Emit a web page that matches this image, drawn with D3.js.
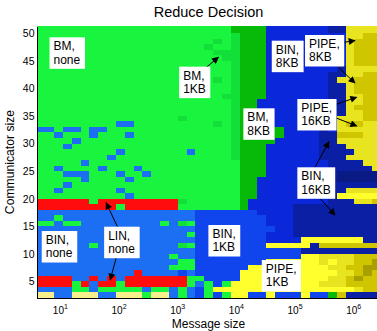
<!DOCTYPE html>
<html>
<head>
<meta charset="utf-8">
<script src="https://cdn.jsdelivr.net/npm/d3@7"></script>
<style>
  body { margin: 0; background: #fff; }
  svg { display: block; font-family: "Liberation Sans", Arial, sans-serif; }
</style>
</head>
<body>
<div id="chart"></div>
<script>
const title = 'Reduce Decision';
const xLabel = 'Message size';
const yLabel = 'Communicator size';

// message size bin edges in bytes (half-octave bins)
const msgEdges = [4, 5.657, 8, 11.31, 16, 22.63, 32, 45.25, 64, 90.51, 128, 181.0,
  256, 362.0, 512, 724.1, 1024, 1448, 2048, 2896, 4096, 5793, 8192, 11585, 16384,
  23170, 32768, 46341, 65536, 92682, 131072, 185364, 262144, 370728, 524288,
  741455, 1048576, 1482910, 2097152, 2965821];

// communicator size of each grid row, top row first
const commSizes = [51, 50, 49, 48, 47, 46, 45, 44, 43, 42, 41, 40, 39, 38, 37, 36,
  35, 34, 33, 32, 31, 30, 29, 28, 27, 26, 25, 24, 23, 22, 21, 20, 19, 18, 17, 16,
  15, 14, 13, 12, 11, 10, 9, 8, 7, 6, 5, 4, 3, 2];

const xTicks = [10, 100, 1000, 10000, 100000, 1000000];
const yTicks = [5, 10, 15, 20, 25, 30, 35, 40, 45, 50];

// chosen algorithm per cell, one letter per message size bin
const decisionGrid = [
  'GGGGGGGGGG' + 'GGGGGGGGGG' + 'GGDDDDnnnn' + 'nnnNNyyyy', // 51
  'GGGGGGGGGG' + 'GGGGGGGGGG' + 'GGDDDDnnnn' + 'nnnNNyyyy', // 50
  'GGGGGGGGGG' + 'GGGGGGGGGG' + 'GGgDDDnnnn' + 'nnnnnyyoo',
  'GGGGGGGGGG' + 'GGGGGGGGGG' + 'gGgDDDnnnn' + 'nnnnnyooo',
  'GGGGGGGGGG' + 'GGGGGGGGGg' + 'GGgDDDnnnn' + 'nnnnnyooo',
  'GGGGGGGGGG' + 'GGGGGGGGGG' + 'gggDDDnnnn' + 'nnnnnyooo',
  'GGGGGGGGGG' + 'GGGGGGGGGG' + 'GggDDDnnnn' + 'nnnnnyooo', // 45
  'GGGGGGGGGG' + 'GGGGGGGGGG' + 'GGgDDDnnnn' + 'nnnnnyooo',
  'GGGGGGGGGG' + 'GGGGGGGGGG' + 'GGgDDDnnnn' + 'nnnnNyyyy',
  'GGGGGGGGGG' + 'GGGGGGGGGG' + 'GGgDDDnnnn' + 'nnnNNyyoo',
  'GGGGGGGGGG' + 'GGGGGGGGGG' + 'gGgDDDnnnn' + 'nnnNyyooo',
  'GGGGGGGGGG' + 'GGGGGGGGGG' + 'GGgDDDnnnn' + 'nnnNNyooo', // 40
  'GGGGGGGGGG' + 'GGGGGGGGGG' + 'GGgDDDnnnn' + 'nnnNNyooo',
  'GGGGGGGGGG' + 'GGGGGGGGGG' + 'GggDDDnnnn' + 'nnnNNyyoo',
  'GGGGGGGGGG' + 'GGGGGGGGGG' + 'GGgDDnnnnn' + 'nnnNNyyoo',
  'GGGGGGGGGG' + 'GGGGGGGGGG' + 'GGgDDnnnnn' + 'nnnNNyooo',
  'GGGGGGGGGG' + 'GGGGGGGGGG' + 'GGgDDDnnnn' + 'nnnNNyyoo', // 35
  'GGGGGGGGGG' + 'GGGGGGgGGG' + 'GGgDDDnnnn' + 'nnnnyyyoo',
  'GGGGGGGGGB' + 'BGGGGGGGGG' + 'gGgDDDnnnn' + 'nnnnyooyy',
  'BBGBBGBBGG' + 'GGGGGGGGGG' + 'GGgDDDDDnn' + 'nnNnyyyyy',
  'GGBGGGBGGG' + 'BGGGGGGGGG' + 'GGgDDDDDnn' + 'nnNNoooyy',
  'GGGGBGGGGG' + 'GGGGGGGGGG' + 'GGgDDDDnnn' + 'nnNNyyyyy', // 30
  'GGGBGGGGGG' + 'GGGGGGGGGG' + 'GGgDDDnnnn' + 'nnNNNyyyy',
  'GGGGGGGGGB' + 'GGGGGGGBGG' + 'GGgDDDnnnn' + 'nnNNNNyyy',
  'GGGGGGGGBG' + 'GGGGGGGGGG' + 'GGgDDDnnnn' + 'nnNNNyyyy',
  'GGGGGBGGGG' + 'GGGGGGGGGG' + 'GGGDDDnnnn' + 'nnnNNNNyy',
  'GGBGGGGBGG' + 'GBGGGGGGGG' + 'GGGDDDnnnn' + 'nnnNNNNNy', // 25
  'GGGBBBGGGB' + 'GGBGGGGGGG' + 'GGGDDDnnnn' + 'nnnNMMMMM',
  'GGGGGBGGGG' + 'BGGGGGGGGG' + 'GGGDDnnnnn' + 'nnnNMMMMM',
  'GGGBGGGGGG' + 'GGGGGGGGGG' + 'GGGDDnnnnn' + 'nnnNNNNNN',
  'GGBGGGGGGB' + 'GGGGGGGGGG' + 'GGGDDnnnnn' + 'nnnNNyyyy',
  'GGGGGGGGGG' + 'BGGGGGGGGG' + 'GGGDDnnnnn' + 'nnnNYYYYY', // 20
  'RRRRRRGRRR' + 'RRRRRRgGGG' + 'GGGDnnnnnn' + 'nnnNNNyyo',
  'RRRRRRRRRG' + 'RRRRRRGGGG' + 'GGGDnnnnnN' + 'NNNNNNNNN',
  'BBBBBBBBBB' + 'BBBBBBBBbb' + 'bbbbbnnnnN' + 'NNNNNNNNN',
  'BBGBBBBBBB' + 'BBBBBBBBbb' + 'bbbbbbnnnN' + 'NNNNNNNNN',
  'GGBGGBBBBB' + 'BBBBGBgGbb' + 'bbbbbbnnnN' + 'NNNNNNNNN', // 15
  'BBBBBBBBBB' + 'BBBBBBBBbb' + 'bbbbbbbnnN' + 'NNNNNNNNN',
  'BBBBBBBBBB' + 'BBBBBBBGbb' + 'bbbbbbnnnN' + 'NNNNNNNNN',
  'BBBBBBBBBB' + 'BBBBBBBBbb' + 'bbbbbbnnnn' + 'YYYYYYYNN',
  'BBBBBBGBBB' + 'BBBBBBgGbb' + 'bbbbbbYYYY' + 'YNooooooo',
  'BBBBBBBBBB' + 'BBBBBBBBbb' + 'bbbbbbbbbb' + 'NNNNNNNNN', // 10
  'BBBBBBBBBB' + 'BBBBBGBBbb' + 'bbbbbbbbbb' + 'YYyyyyooo',
  'BBBBBBBBBB' + 'BBBBBBGGbb' + 'bbbbbbYYYY' + 'YYyYyyooO',
  'BBBBBBBBBB' + 'BBBBBGGGbb' + 'bbbbYYYYYY' + 'YYYyyooOO',
  'BBBBBBBBBB' + 'BRBBBBbBbb' + 'bbbYYYYYYY' + 'YYYYyyoOo',
  'RRRRBBRBRB' + 'RRRRRRRGGb' + 'bbbYYYYYYY' + 'YYYyyoOoo', // 5
  'RRRRGRBRRG' + 'RRRRRRRGBG' + 'bGYYYYYYYY' + 'YYyyyoooo',
  'BBBBGGBGGG' + 'GGBGGBGBbG' + 'YYYYYYYYYY' + 'YYYYYYyoo',
  'PPBBPPPBBP' + 'PPGPPBGBbG' + 'bGYYbbYbbb' + 'YbbDoNNNN'  // 2
];

const algoColors = {
  G: '#19f43e', // BM, none
  g: '#12df37', // BM, 1KB
  D: '#07ba07', // BM, 8KB
  B: '#1c6ef2', // BIN, none
  b: '#1045ee', // BIN, 1KB
  n: '#0a27d9', // BIN, 8KB
  N: '#0a1fa3', // BIN, 16KB
  M: '#0a1a85',
  Y: '#ffff2e', // PIPE, 1KB
  y: '#e8e41f', // PIPE, 8KB
  o: '#cfc600', // PIPE, 16KB
  O: '#a89f00',
  P: '#f7ee8c',
  R: '#ff0d0d'  // LIN, none
};

// text boxes, anchored at their top-left corner in data units
const notes = [
  { lines: ['BM,', 'none'], msg: 6.66, comm: 49.25 },
  { lines: ['BM,', '1KB'], msg: 1079, comm: 43.93 },
  { lines: ['BIN,', '8KB'], msg: 40930, comm: 48.64 },
  { lines: ['PIPE,', '8KB'], msg: 151000, comm: 49.67 },
  { lines: ['PIPE,', '16KB'], msg: 111700, comm: 38.07 },
  { lines: ['BM,', '8KB'], msg: 13430, comm: 36.38 },
  { lines: ['BIN,', '16KB'], msg: 111700, comm: 25.69 },
  { lines: ['LIN,', 'none'], msg: 56.9, comm: 14.92 },
  { lines: ['BIN,', 'none'], msg: 4.91, comm: 14.14 },
  { lines: ['BIN,', '1KB'], msg: 3404, comm: 15.23 },
  { lines: ['PIPE,', '1KB'], msg: 27670, comm: 8.89 }
];

// arrows from a text box to the region it names
const arrows = [
  { from: [2992, 43.63], to: [5047, 45.63] },
  { from: [558000, 48.17], to: [1074000, 48.67] },
  { from: [580700, 43.63], to: [1074000, 40.97] },
  { from: [418800, 36.80], to: [1148000, 38.38] },
  { from: [418800, 34.99], to: [1148000, 33.18] },
  { from: [223900, 25.74], to: [387300, 30.33] },
  { from: [223900, 21.03], to: [489800, 17.04] },
  { from: [95.9, 14.92], to: [61.5, 19.27] },
  { from: [95.9, 10.10], to: [72.1, 5.26] }
];

const width = 377, height = 331;
const plotLeft = 36.5, plotTop = 26, plotBottom = 298;

const svg = d3.select('#chart')
  .append('svg')
  .attr('width', width)
  .attr('height', height);

const x = d3.scaleLog()
  .domain([msgEdges[0], msgEdges[msgEdges.length - 1]])
  .range([plotLeft, 380.9]);

const y = d3.scaleLinear()
  .domain([2, 51.3])
  .range([plotBottom, plotTop]);

const defs = svg.append('defs');

defs.append('clipPath')
  .attr('id', 'plot-clip')
  .append('rect')
  .attr('x', plotLeft).attr('y', plotTop)
  .attr('width', width - plotLeft).attr('height', plotBottom - plotTop);

defs.append('marker')
  .attr('id', 'head')
  .attr('viewBox', '0 0 10 10')
  .attr('refX', 9).attr('refY', 5)
  .attr('markerWidth', 8).attr('markerHeight', 7)
  .attr('markerUnits', 'userSpaceOnUse')
  .attr('orient', 'auto')
  .append('path')
  .attr('d', 'M0,0L10,5L0,10Z')
  .attr('fill', '#000');

// flatten grid into cells
const cells = [];
decisionGrid.forEach((row, i) => {
  row.split('').forEach((k, j) => {
    cells.push({ comm: commSizes[i], lo: msgEdges[j], hi: msgEdges[j + 1], algo: k });
  });
});

const plot = svg.append('g').attr('clip-path', 'url(#plot-clip)');

plot.selectAll('rect')
  .data(cells)
  .join('rect')
  .attr('x', d => Math.round(x(d.lo)))
  .attr('width', d => Math.round(x(d.hi)) - Math.round(x(d.lo)))
  .attr('y', d => Math.round(y(d.comm + 1)))
  .attr('height', d => Math.round(y(d.comm)) - Math.round(y(d.comm + 1)))
  .attr('fill', d => algoColors[d.algo])
  .attr('shape-rendering', 'crispEdges');

// axes
const yAxis = d3.axisLeft(y).tickValues(yTicks).tickSize(0).tickPadding(2);
const yAxisGroup = svg.append('g')
  .attr('transform', `translate(${plotLeft},0)`)
  .call(yAxis);
yAxisGroup.select('.domain').attr('stroke', '#000').attr('shape-rendering', 'crispEdges');
yAxisGroup.selectAll('text')
  .attr('font-family', '"Liberation Sans", Arial, sans-serif')
  .attr('font-size', 10.5)
  .attr('fill', '#000');

const xAxis = d3.axisBottom(x).tickValues(xTicks).tickSize(0);
const xAxisGroup = svg.append('g')
  .attr('transform', `translate(0,${plotBottom})`)
  .call(xAxis);
xAxisGroup.select('.domain').attr('stroke', '#000').attr('shape-rendering', 'crispEdges');
xAxisGroup.selectAll('text')
  .attr('dy', null)
  .attr('y', 16)
  .attr('font-family', '"Liberation Sans", Arial, sans-serif')
  .attr('font-size', 10)
  .attr('fill', '#000')
  .each(function(d) {
    const t = d3.select(this).text('');
    t.append('tspan').text('10');
    t.append('tspan')
      .attr('dy', -5.5)
      .attr('font-size', 7)
      .text(Math.round(Math.log10(d)));
  });

// titles
svg.append('text')
  .attr('x', 208.5).attr('y', 16.5)
  .attr('text-anchor', 'middle')
  .attr('font-size', 14.5)
  .text(title);

svg.append('text')
  .attr('x', 208.5).attr('y', 327.5)
  .attr('text-anchor', 'middle')
  .attr('font-size', 12)
  .text(xLabel);

svg.append('text')
  .attr('transform', `translate(14,${(plotTop + plotBottom) / 2}) rotate(-90)`)
  .attr('text-anchor', 'middle')
  .attr('font-size', 12.2)
  .text(yLabel);

// arrows
svg.selectAll('line.arrow')
  .data(arrows)
  .join('line')
  .attr('class', 'arrow')
  .attr('x1', d => x(d.from[0])).attr('y1', d => y(d.from[1]))
  .attr('x2', d => x(d.to[0])).attr('y2', d => y(d.to[1]))
  .attr('stroke', '#000')
  .attr('stroke-width', 1)
  .attr('marker-end', 'url(#head)');

// text boxes
const noteGroups = svg.selectAll('g.note')
  .data(notes)
  .join('g')
  .attr('class', 'note')
  .attr('transform', d => `translate(${x(d.msg)},${y(d.comm)})`);

noteGroups.append('rect')
  .attr('fill', '#fff');

noteGroups.append('text')
  .attr('font-size', 12)
  .selectAll('tspan')
  .data(d => d.lines)
  .join('tspan')
  .attr('x', 4)
  .attr('y', (d, i) => 13 + i * 13.4)
  .text(d => d);

noteGroups.each(function() {
  const g = d3.select(this);
  const box = g.select('text').node().getBBox();
  g.select('rect')
    .attr('x', 0).attr('y', 0)
    .attr('width', box.width + 8.5)
    .attr('height', 31.5);
});
</script>
</body>
</html>
